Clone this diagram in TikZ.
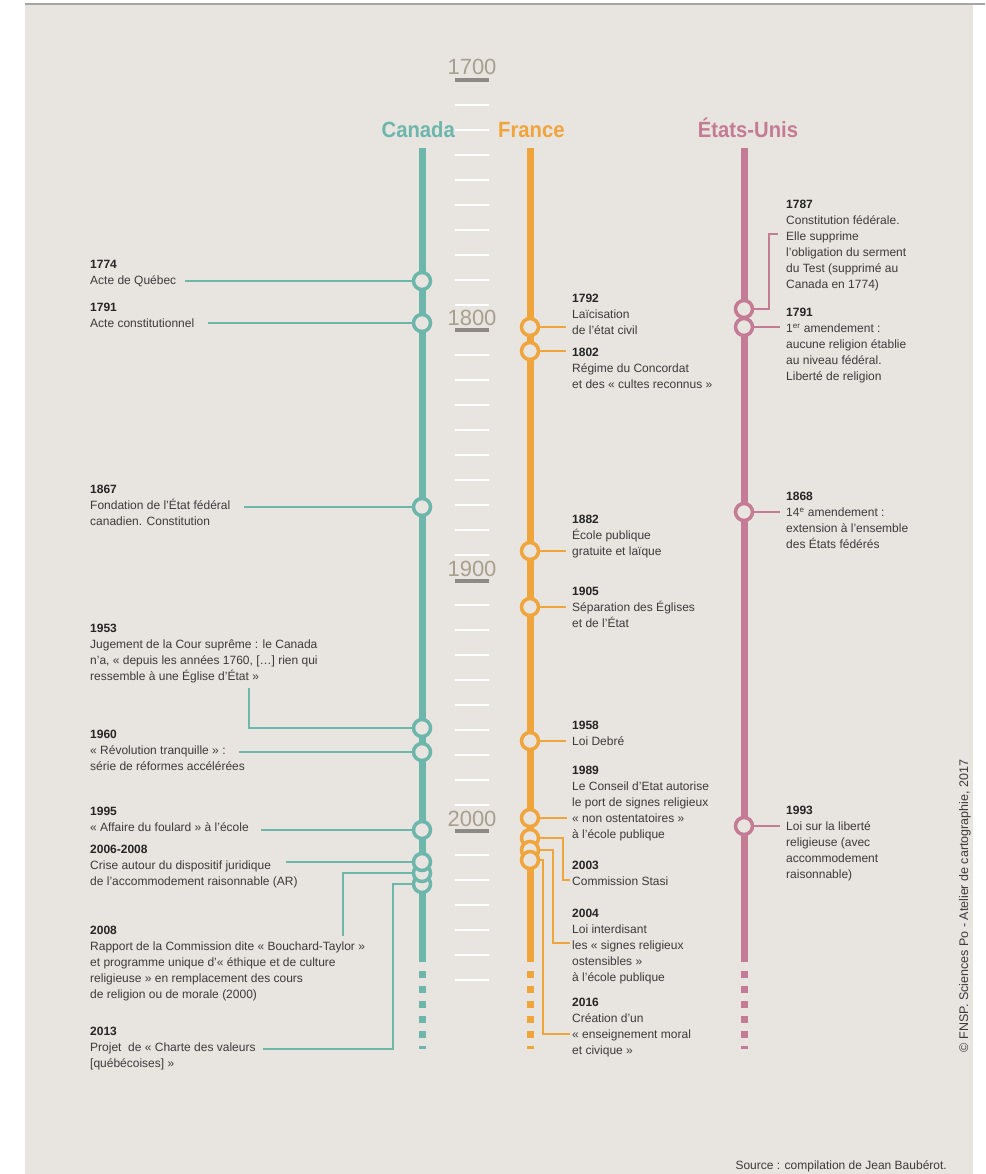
\documentclass[tikz,border=0pt]{standalone}
\usepackage{fontspec}
\setmainfont{Liberation Sans}
\newfontfamily\headfont{Liberation Sans}[FakeStretch=0.92]
\usetikzlibrary{positioning}
\definecolor{bg}{HTML}{E8E4DF}
\definecolor{ca}{HTML}{6DB6AC}
\definecolor{fr}{HTML}{F0A43C}
\definecolor{us}{HTML}{C47C96}
\definecolor{ink}{HTML}{3C3C3C}
\definecolor{decade}{HTML}{A8A08E}
\definecolor{bar}{HTML}{8D8A86}
\newcommand{\yr}[1]{{\color{black!85}\bfseries #1}}

\begin{document}
\begin{tikzpicture}[x=1pt, y=-1pt, font=\fontsize{12}{16}\selectfont,
    ev/.style={circle, draw, fill=bg, minimum size=17pt, inner sep=0pt, line width=3.5pt},
    lbl/.style={anchor=north west, align=left, inner sep=0pt, text=ink},
    lnk/.style={line width=2pt},
    axis/.style={line width=7pt},
    tail/.style={line width=7pt, dash pattern=on 7pt off 8pt},
    tick/.style={white, line width=2pt},
    head/.style={font=\headfont\bfseries\fontsize{22}{22}\selectfont, inner sep=0pt},
    decade/.style={font=\fontsize{22}{22}\selectfont, text=decade, inner sep=0pt, anchor=base}]

  \useasboundingbox (0,0) rectangle (985,1174);
  \fill[bg] (25,5) rectangle (973,1174);
  \draw[gray!70, line width=1.5pt] (25,4) -- (985,4);

  % scale
  \foreach \k in {1,...,36}
    \draw[tick] (455,80+25*\k) -- (489,80+25*\k);
  \foreach \d/\yy in {1700/80, 1800/330, 1900/581, 2000/831} {
    \draw[bar, line width=4pt] (455,\yy) -- (489,\yy);
    \node[decade] (d\d) at (472,\yy-5) {\d};
  }

  % axes
  \foreach \c/\xx in {ca/422, fr/530, us/744} {
    \draw[axis, \c] (\xx,148) -- (\xx,962);
    \draw[tail, \c] (\xx,970.5) -- (\xx,1049);
  }
  \node[head, text=ca, anchor=base east] (hca) at (455,138) {Canada};
  \node[head, text=fr, anchor=base west] (hfr) at (498,138) {France};
  \node[head, text=us, anchor=base] (hus) at (748,138) {États-Unis};

  % Canada
  \node[lbl] (tca1774) at (90,260) {\yr{1774}\\Acte de Québec};
  \node[lbl] (tca1791) at (90,303) {\yr{1791}\\Acte constitutionnel};
  \node[lbl] (tca1867) at (90,485) {\yr{1867}\\Fondation de l’État fédéral\\canadien. Constitution};
  \node[lbl] (tca1953) at (90,624) {\yr{1953}\\Jugement de la Cour suprême : le Canada\\n’a, « depuis les années 1760, […] rien qui\\ressemble à une Église d’État »};
  \node[lbl] (tca1960) at (90,730) {\yr{1960}\\« Révolution tranquille » :\\série de réformes accélérées};
  \node[lbl] (tca1995) at (90,807) {\yr{1995}\\« Affaire du foulard » à l’école};
  \node[lbl] (tca2006) at (90,845) {\yr{2006-2008}\\Crise autour du dispositif juridique\\de l’accommodement raisonnable (AR)};
  \node[lbl] (tca2008) at (90,926) {\yr{2008}\\Rapport de la Commission dite « Bouchard-Taylor »\\et programme unique d’« éthique et de culture\\religieuse » en remplacement des cours\\de religion ou de morale (2000)};
  \node[lbl] (tca2013) at (90,1027) {\yr{2013}\\Projet~ de « Charte des valeurs\\{}[québécoises] »};

  \coordinate (eca1774) at (185,281);
  \coordinate (eca1791) at (208,323);
  \coordinate (eca1867) at (244,507);
  \coordinate (eca1953) at (249,688);
  \coordinate (eca1960) at (239,752);
  \coordinate (eca1995) at (261,830);
  \coordinate (eca2006) at (286,862);
  \coordinate (eca2008) at (343,936);
  \coordinate (kca2013) at (393,1049);
  \coordinate (eca2013) at (263,1049);

  \node[ev, draw=ca] (ca1774) at (422,281) {};
  \node[ev, draw=ca] (ca1791) at (422,323) {};
  \node[ev, draw=ca] (ca1867) at (422,507) {};
  \node[ev, draw=ca] (ca1953) at (422,728) {};
  \node[ev, draw=ca] (ca1960) at (422,752) {};
  \node[ev, draw=ca] (ca1995) at (422,830) {};
  \node[ev, draw=ca] (ca2013) at (422,884) {};
  \node[ev, draw=ca] (ca2008) at (422,873) {};
  \node[ev, draw=ca] (ca2006) at (422,862) {};

  \draw[lnk, ca] (eca1774) -- (ca1774);
  \draw[lnk, ca] (eca1791) -- (ca1791);
  \draw[lnk, ca] (eca1867) -- (ca1867);
  \draw[lnk, ca] (ca1953) -| (eca1953);
  \draw[lnk, ca] (eca1960) -- (ca1960);
  \draw[lnk, ca] (eca1995) -- (ca1995);
  \draw[lnk, ca] (eca2006) -- (ca2006);
  \draw[lnk, ca] (ca2008) -| (eca2008);
  \draw[lnk, ca] (ca2013) -| (kca2013) -- (eca2013);

  % France
  \node[lbl] (tfr1792) at (572,294) {\yr{1792}\\Laïcisation\\de l’état civil};
  \node[lbl] (tfr1802) at (572,348) {\yr{1802}\\Régime du Concordat\\et des « cultes reconnus »};
  \node[lbl] (tfr1882) at (572,515) {\yr{1882}\\École publique\\gratuite et laïque};
  \node[lbl] (tfr1905) at (572,587) {\yr{1905}\\Séparation des Églises\\et de l’État};
  \node[lbl] (tfr1958) at (572,721) {\yr{1958}\\Loi Debré};
  \node[lbl] (tfr1989) at (572,766) {\yr{1989}\\Le Conseil d’Etat autorise\\le port de signes religieux\\« non ostentatoires »\\à l’école publique};
  \node[lbl] (tfr2003) at (572,861) {\yr{2003}\\Commission Stasi};
  \node[lbl] (tfr2004) at (572,909) {\yr{2004}\\Loi interdisant\\les « signes religieux\\ostensibles »\\à l’école publique};
  \node[lbl] (tfr2016) at (572,998) {\yr{2016}\\Création d’un\\« enseignement moral\\et civique »};

  \coordinate (efr1792) at (566,327);
  \coordinate (efr1802) at (566,351);
  \coordinate (efr1882) at (566,551);
  \coordinate (efr1905) at (566,607);
  \coordinate (efr1958) at (566,741);
  \coordinate (efr1989) at (567,818);
  \coordinate (kfr2003) at (563,880);
  \coordinate (efr2003) at (570,880);
  \coordinate (kfr2004) at (553,943);
  \coordinate (efr2004) at (570,943);
  \coordinate (kfr2016) at (543,1034);
  \coordinate (efr2016) at (570,1034);

  \node[ev, draw=fr] (fr1792) at (530,327) {};
  \node[ev, draw=fr] (fr1802) at (530,351) {};
  \node[ev, draw=fr] (fr1882) at (530,551) {};
  \node[ev, draw=fr] (fr1905) at (530,607) {};
  \node[ev, draw=fr] (fr1958) at (530,741) {};
  \node[ev, draw=fr] (fr1989) at (530,818) {};
  \node[ev, draw=fr] (fr2003) at (530,838) {};
  \node[ev, draw=fr] (fr2004) at (530,850) {};
  \node[ev, draw=fr] (fr2016) at (530,860) {};

  \draw[lnk, fr] (fr1792) -- (efr1792);
  \draw[lnk, fr] (fr1802) -- (efr1802);
  \draw[lnk, fr] (fr1882) -- (efr1882);
  \draw[lnk, fr] (fr1905) -- (efr1905);
  \draw[lnk, fr] (fr1958) -- (efr1958);
  \draw[lnk, fr] (fr1989) -- (efr1989);
  \draw[lnk, fr] (fr2003) -| (kfr2003) -- (efr2003);
  \draw[lnk, fr] (fr2004) -| (kfr2004) -- (efr2004);
  \draw[lnk, fr] (fr2016) -| (kfr2016) -- (efr2016);

  % Etats-Unis
  \node[lbl] (tus1787) at (786,200) {\yr{1787}\\Constitution fédérale.\\Elle supprime\\l’obligation du serment\\du Test (supprimé au\\Canada en 1774)};
  \node[lbl] (tus1791) at (786,308) {\yr{1791}\\1\textsuperscript{er} amendement :\\aucune religion établie\\au niveau fédéral.\\Liberté de religion};
  \node[lbl] (tus1868) at (786,492) {\yr{1868}\\14\textsuperscript{e} amendement :\\extension à l’ensemble\\des États fédérés};
  \node[lbl] (tus1993) at (786,806) {\yr{1993}\\Loi sur la liberté\\religieuse (avec\\accommodement\\raisonnable)};

  \coordinate (kus1787) at (769,234);
  \coordinate (eus1787) at (778,234);
  \coordinate (eus1791) at (780,327);
  \coordinate (eus1868) at (780,512);
  \coordinate (eus1993) at (780,826);

  \node[ev, draw=us] (us1787) at (744,309) {};
  \node[ev, draw=us] (us1791) at (744,327) {};
  \node[ev, draw=us] (us1868) at (744,512) {};
  \node[ev, draw=us] (us1993) at (744,826) {};

  \draw[lnk, us] (us1787) -| (kus1787) -- (eus1787);
  \draw[lnk, us] (us1791) -- (eus1791);
  \draw[lnk, us] (us1868) -- (eus1868);
  \draw[lnk, us] (us1993) -- (eus1993);

  \node[rotate=90, text=ink, font=\fontsize{12.5}{12.5}\selectfont] (copy) at (965,906) {© FNSP. Sciences Po - Atelier de cartographie, 2017};
  \node[anchor=base east, text=ink, inner sep=0pt] (src) at (947,1169) {Source : compilation de Jean Baubérot.};
\end{tikzpicture}
\end{document}
